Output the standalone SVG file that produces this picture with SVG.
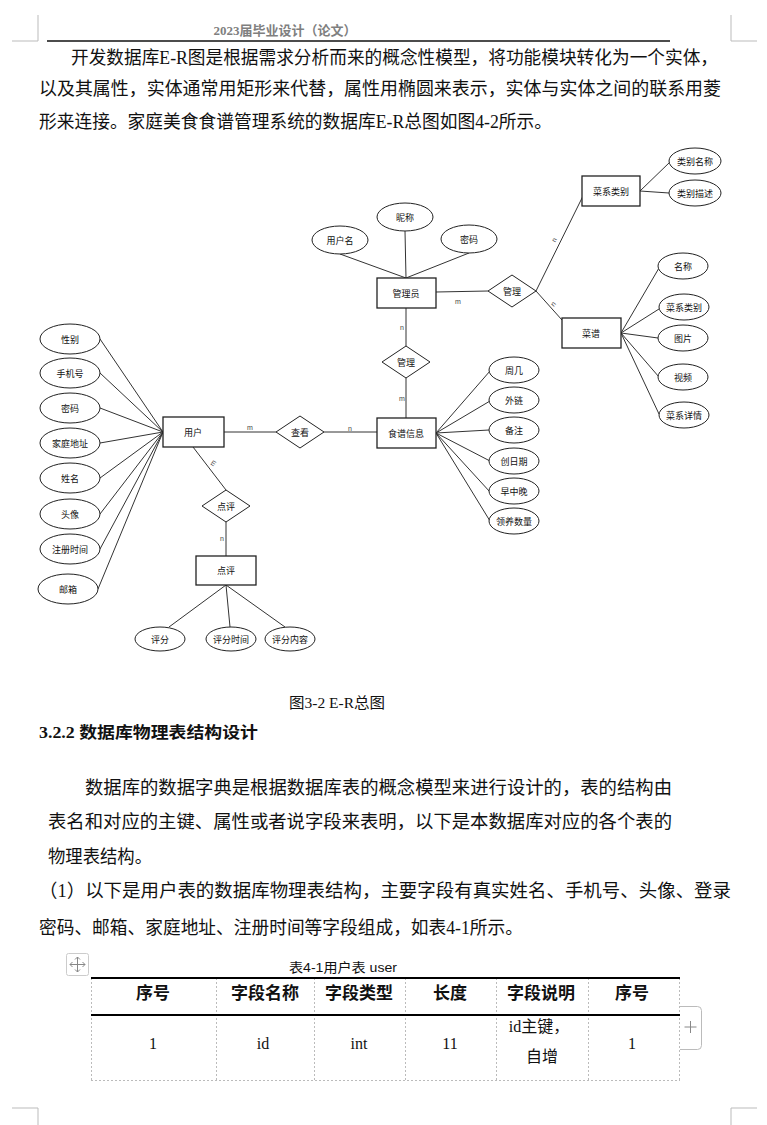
<svg xmlns="http://www.w3.org/2000/svg" width="767" height="1125" viewBox="0 0 767 1125">
<style>
.body{font-family:"Liberation Serif","Noto Sans CJK SC",serif;font-size:18.5px;fill:#111}
.er{font-family:"Noto Sans CJK SC","Liberation Sans",sans-serif;font-size:9px;fill:#111;text-anchor:middle;dominant-baseline:central}
.card{font-family:"Liberation Sans",sans-serif;font-size:7px;fill:#444;text-anchor:middle;dominant-baseline:central}
.ent{fill:#fff;stroke:#222;stroke-width:1.3}
.att{fill:#fff;stroke:#222;stroke-width:1}
.ln{stroke:#333;stroke-width:1;fill:none}
.crn{stroke:#bbb;stroke-width:1;fill:none}
.th{font-family:"Liberation Serif","Noto Sans CJK SC",serif;font-size:17px;font-weight:bold;fill:#111;text-anchor:middle}
.td{font-family:"Liberation Serif","Noto Sans CJK SC",serif;font-size:16px;fill:#111;text-anchor:middle}
.dash{stroke:#bbb;stroke-width:1;stroke-dasharray:2 2;fill:none}
</style>
<rect width="767" height="1125" fill="#fff"/>
<!-- page corner marks -->
<g id="corners">
<path class="crn" d="M38 15V41H12M731 15V41H757M38 1125V1108H12M731 1125V1108H757"/>
</g>
<!-- header -->
<g id="header">
<text x="285" y="35" font-family="Liberation Serif,Noto Sans CJK SC,serif" font-size="13" font-weight="bold" fill="#7f7f7f" text-anchor="middle">2023届毕业设计（论文）</text>
<line x1="47" y1="41" x2="670" y2="41" stroke="#111" stroke-width="1.3"/>
</g>
<g id="intro">
<text class="body" x="71" y="64" textLength="647" lengthAdjust="spacingAndGlyphs">开发数据库E-R图是根据需求分析而来的概念性模型，将功能模块转化为一个实体，</text>
<text class="body" x="39" y="95" textLength="682" lengthAdjust="spacingAndGlyphs">以及其属性，实体通常用矩形来代替，属性用椭圆来表示，实体与实体之间的联系用菱</text>
<text class="body" x="39" y="128" textLength="513" lengthAdjust="spacingAndGlyphs">形来连接。家庭美食食谱管理系统的数据库E-R总图如图4-2所示。</text>
</g>
<!-- connectors -->
<g id="connectors">
<path class="ln" d="M640 191L670 162M640 191L669 193"/>
<path class="ln" d="M340 254L406 278M405 231L406 278M469 253L406 278"/>
<path class="ln" d="M436 292L488 291M536 291L583 196M536 291L562 320"/>
<path class="ln" d="M621 333L659 268M621 333L659 309M621 333L658 338M621 333L659 377M621 333L659 414"/>
<path class="ln" d="M406 308V346M406 378V418"/>
<path class="ln" d="M436 433L490 371M436 433L490 401M436 433L489 430M436 433L490 461M436 433L490 492M436 433L490 521"/>
<path class="ln" d="M224 432H276M324 432H377"/>
<path class="ln" d="M100 339L163 432M100 373L163 432M100 408L163 432M100 443L163 432M100 478L163 432M100 514L163 432M100 549L163 432M98 589L163 432"/>
<path class="ln" d="M193 447L226 490M226 522V556"/>
<path class="ln" d="M226 585L169 627M226 585L230 627M226 585L285 627"/>
</g>
<g id="cardinalities">
<text class="card" x="458" y="301">m</text>
<text class="card" x="554" y="240" transform="rotate(-65 554 240)">n</text>
<text class="card" x="553" y="304" transform="rotate(-50 553 304)">n</text>
<text class="card" x="402" y="327">n</text>
<text class="card" x="402" y="398">m</text>
<text class="card" x="250" y="427">m</text>
<text class="card" x="350" y="428">n</text>
<text class="card" x="213" y="463" transform="rotate(-55 213 463)">m</text>
<text class="card" x="222" y="538">n</text>
</g>
<!-- entities -->
<g id="n-caixileibie"><rect class="ent" x="582" y="176" width="58" height="30"/><text class="er" x="611" y="191">菜系类别</text></g>
<g id="n-leibiemingcheng"><ellipse class="att" cx="695" cy="161" rx="26" ry="13"/><text class="er" x="695" y="161">类别名称</text></g>
<g id="n-leibiemiaoshu"><ellipse class="att" cx="695" cy="193" rx="26" ry="13"/><text class="er" x="695" y="193">类别描述</text></g>
<g id="n-guanliyuan"><rect class="ent" x="377" y="278" width="59" height="30"/><text class="er" x="406" y="293">管理员</text></g>
<g id="n-nicheng"><ellipse class="att" cx="405" cy="217" rx="28" ry="14"/><text class="er" x="405" y="217">昵称</text></g>
<g id="n-yonghuming"><ellipse class="att" cx="340" cy="240" rx="28" ry="14"/><text class="er" x="340" y="240">用户名</text></g>
<g id="n-mima1"><ellipse class="att" cx="469" cy="239" rx="28" ry="14"/><text class="er" x="469" y="239">密码</text></g>
<g id="n-guanli1"><polygon class="att" points="488,291 512,275 536,291 512,307"/><text class="er" x="512" y="291">管理</text></g>
<g id="n-caipu"><rect class="ent" x="562" y="318" width="59" height="30"/><text class="er" x="591" y="333">菜谱</text></g>
<g id="n-mingcheng"><ellipse class="att" cx="683" cy="266" rx="25" ry="13"/><text class="er" x="683" y="266">名称</text></g>
<g id="n-caixileibie2"><ellipse class="att" cx="684" cy="307" rx="25" ry="13"/><text class="er" x="684" y="307">菜系类别</text></g>
<g id="n-tupian"><ellipse class="att" cx="683" cy="338" rx="25" ry="13"/><text class="er" x="683" y="338">图片</text></g>
<g id="n-shipin"><ellipse class="att" cx="683" cy="377" rx="25" ry="13"/><text class="er" x="683" y="377">视频</text></g>
<g id="n-caixixiangqing"><ellipse class="att" cx="684" cy="415" rx="25" ry="13"/><text class="er" x="684" y="415">菜系详情</text></g>
<g id="n-guanli2"><polygon class="att" points="382,362 406,346 430,362 406,378"/><text class="er" x="406" y="362">管理</text></g>
<g id="n-shipuxinxi"><rect class="ent" x="377" y="418" width="59" height="30"/><text class="er" x="406" y="433">食谱信息</text></g>
<g id="n-zhouji"><ellipse class="att" cx="514" cy="370" rx="25" ry="13"/><text class="er" x="514" y="370">周几</text></g>
<g id="n-wailian"><ellipse class="att" cx="514" cy="400" rx="25" ry="13"/><text class="er" x="514" y="400">外链</text></g>
<g id="n-beizhu"><ellipse class="att" cx="514" cy="430" rx="25" ry="13"/><text class="er" x="514" y="430">备注</text></g>
<g id="n-chuangriqi"><ellipse class="att" cx="514" cy="461" rx="25" ry="13"/><text class="er" x="514" y="461">创日期</text></g>
<g id="n-zaozhongwan"><ellipse class="att" cx="514" cy="491" rx="25" ry="13"/><text class="er" x="514" y="491">早中晚</text></g>
<g id="n-lingyangshuliang"><ellipse class="att" cx="514" cy="521" rx="25" ry="13"/><text class="er" x="514" y="521">领养数量</text></g>
<g id="n-chakan"><polygon class="att" points="276,432 300,416 324,432 300,448"/><text class="er" x="300" y="432">查看</text></g>
<g id="n-yonghu"><rect class="ent" x="163" y="417" width="61" height="30"/><text class="er" x="193" y="432">用户</text></g>
<g id="n-xingbie"><ellipse class="att" cx="70" cy="339" rx="30" ry="15"/><text class="er" x="70" y="339">性别</text></g>
<g id="n-shoujihao"><ellipse class="att" cx="70" cy="373" rx="30" ry="15"/><text class="er" x="70" y="373">手机号</text></g>
<g id="n-mima2"><ellipse class="att" cx="70" cy="408" rx="30" ry="15"/><text class="er" x="70" y="408">密码</text></g>
<g id="n-jiatingdizhi"><ellipse class="att" cx="70" cy="443" rx="30" ry="15"/><text class="er" x="70" y="443">家庭地址</text></g>
<g id="n-xingming"><ellipse class="att" cx="70" cy="478" rx="30" ry="15"/><text class="er" x="70" y="478">姓名</text></g>
<g id="n-touxiang"><ellipse class="att" cx="70" cy="514" rx="30" ry="15"/><text class="er" x="70" y="514">头像</text></g>
<g id="n-zhuceshijian"><ellipse class="att" cx="70" cy="549" rx="30" ry="15"/><text class="er" x="70" y="549">注册时间</text></g>
<g id="n-youxiang"><ellipse class="att" cx="68" cy="589" rx="30" ry="15"/><text class="er" x="68" y="589">邮箱</text></g>
<g id="n-dianping-rel"><polygon class="att" points="202,506 226,490 250,506 226,522"/><text class="er" x="226" y="506">点评</text></g>
<g id="n-dianping"><rect class="ent" x="196" y="556" width="60" height="29"/><text class="er" x="226" y="570">点评</text></g>
<g id="n-pingfen"><ellipse class="att" cx="160" cy="639" rx="25" ry="12"/><text class="er" x="160" y="639">评分</text></g>
<g id="n-pingfenshijian"><ellipse class="att" cx="231" cy="639" rx="25" ry="12"/><text class="er" x="231" y="639">评分时间</text></g>
<g id="n-pingfenneirong"><ellipse class="att" cx="290" cy="639" rx="25" ry="12"/><text class="er" x="290" y="639">评分内容</text></g>
<!-- text below -->
<g id="after">
<text x="289" y="708" font-family="Liberation Serif,Noto Sans CJK SC,serif" font-size="15" fill="#111" textLength="96" lengthAdjust="spacingAndGlyphs">图3-2 E-R总图</text>
<text x="39" y="738" font-family="Liberation Serif,Noto Sans CJK SC,serif" font-size="16" font-weight="bold" fill="#111" textLength="219" lengthAdjust="spacingAndGlyphs">3.2.2 数据库物理表结构设计</text>
<text class="body" x="85" y="794" textLength="587" lengthAdjust="spacingAndGlyphs">数据库的数据字典是根据数据库表的概念模型来进行设计的，表的结构由</text>
<text class="body" x="48" y="828" textLength="624" lengthAdjust="spacingAndGlyphs">表名和对应的主键、属性或者说字段来表明，以下是本数据库对应的各个表的</text>
<text class="body" x="48" y="863" textLength="104" lengthAdjust="spacingAndGlyphs">物理表结构。</text>
<text class="body" x="39" y="897" textLength="692" lengthAdjust="spacingAndGlyphs">（1）以下是用户表的数据库物理表结构，主要字段有真实姓名、手机号、头像、登录</text>
<text class="body" x="39" y="934" textLength="484" lengthAdjust="spacingAndGlyphs">密码、邮箱、家庭地址、注册时间等字段组成，如表4-1所示。</text>
</g>
<!-- table -->
<g id="table">
<rect x="66.5" y="953.5" width="22" height="22" rx="2" fill="#fff" stroke="#ccc"/>
<path d="M77.5 957V972M70 964.5H85M75 959.5L77.5 957L80 959.5M75 969.5L77.5 972L80 969.5M72.5 962L70 964.5L72.5 967M82.5 962L85 964.5L82.5 967" stroke="#888" stroke-width="1" fill="none"/>
<text x="343" y="972" font-family="Liberation Sans,Noto Sans CJK SC,sans-serif" font-size="13" fill="#111" text-anchor="middle" textLength="108" lengthAdjust="spacingAndGlyphs">表4-1用户表 user</text>
<path class="dash" d="M91.5 978V1080M216.5 978V1080M314.5 978V1080M405.5 978V1080M496.5 978V1080M588.5 978V1080M679.5 978V1080M91 1080.5H680"/>
<line x1="91" y1="978" x2="680" y2="978" stroke="#000" stroke-width="2.2"/>
<line x1="91" y1="1015" x2="680" y2="1015" stroke="#000" stroke-width="2.2"/>
<text class="th" x="153" y="999">序号</text>
<text class="th" x="265" y="999">字段名称</text>
<text class="th" x="359" y="999">字段类型</text>
<text class="th" x="450" y="999">长度</text>
<text class="th" x="541" y="999">字段说明</text>
<text class="th" x="632" y="999">序号</text>
<text class="td" x="153" y="1049">1</text>
<text class="td" x="263" y="1049">id</text>
<text class="td" x="359" y="1049">int</text>
<text class="td" x="450" y="1049">11</text>
<text class="td" x="539" y="1032">id主键，</text>
<text class="td" x="542" y="1062">自增</text>
<text class="td" x="632" y="1049">1</text>
<path d="M680 1006.5H697.5Q701.5 1006.5 701.5 1010.5V1045.5Q701.5 1049.5 697.5 1049.5H680" fill="#fff" stroke="#bbb"/>
<path d="M690.5 1021V1033M684.5 1027H696.5" stroke="#888" stroke-width="1"/>
</g>
</svg>
